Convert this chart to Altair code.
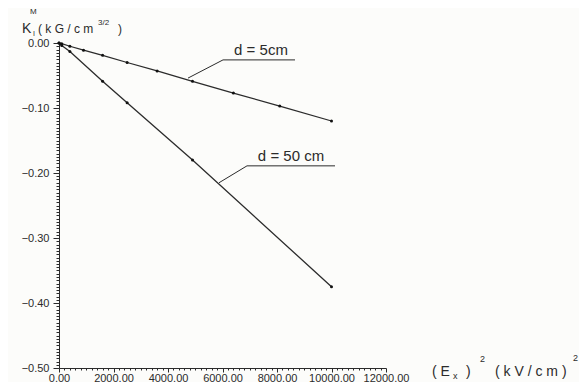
import altair as alt
import pandas as pd

# ---- data ----
E2_d5 = [0, 100, 400, 900, 1600, 2500, 3600, 4900, 6400, 8100, 10000]
K_d5 = [0.0, -0.001, -0.005, -0.011, -0.019, -0.030, -0.043, -0.059, -0.077, -0.097, -0.120]
E2_d50 = [0, 100, 400, 1600, 2500, 4900, 10000]
K_d50 = [0.0, -0.004, -0.013, -0.059, -0.092, -0.180, -0.375]

labels = ["d = 5cm", "d = 50 cm"]
# leader lines (data coordinates): point on curve -> start of underline -> end of underline
lead_x = [4734, 5872]
lead_y = [-0.054, -0.215]
under_x1 = [6019, 6899]
under_x2 = [8661, 10129]
under_y = [-0.026, -0.189]
label_x = [7413, 8514]

x_ticks = list(range(0, 12001, 200))
y_ticks = [round(-i * 0.005, 3) for i in range(0, 101)]

INK = "#2b2b2b"

df = pd.concat([
    pd.DataFrame({"E2": E2_d5, "K": K_d5, "d": "5"}),
    pd.DataFrame({"E2": E2_d50, "K": K_d50, "d": "50"}),
])

xscale = alt.Scale(domain=[0, 12000], nice=False, zero=False)
yscale = alt.Scale(domain=[-0.5, 0.0], nice=False, zero=False)

xaxis = alt.Axis(
    values=x_ticks,
    labelExpr="datum.value % 2000 === 0 ? format(datum.value, '.2f') : ''",
    tickSize={"condition": {"test": "datum.value % 2000 === 0", "value": 4}, "value": 2},
    title=None, grid=False, domainColor=INK, tickColor=INK, labelColor=INK,
    labelFont="Liberation Sans", labelFontSize=11, labelOverlap=False, labelPadding=0,
    labelFlush=False,
)
yaxis = alt.Axis(
    values=y_ticks,
    labelExpr="abs(datum.value*10 - round(datum.value*10)) < 1e-6 ? format(datum.value, '.2f') : ''",
    tickSize={"condition": {"test": "abs(datum.value*10 - round(datum.value*10)) < 1e-6", "value": 6}, "value": 3},
    title=None, grid=False, domainColor=INK, tickColor=INK, labelColor=INK,
    labelFont="Liberation Sans", labelFontSize=11, labelPadding=4, labelFlush=False,
    labelOverlap=False,
)

def X(f):
    return alt.X(f, type="quantitative", scale=xscale, axis=xaxis)

def Y(f):
    return alt.Y(f, type="quantitative", scale=yscale, axis=yaxis)

base = alt.Chart(df)
lines = base.mark_line(color=INK, strokeWidth=1.3).encode(
    x=X("E2"), y=Y("K"), detail="d:N",
)
pts = base.mark_circle(color="#111", size=9, opacity=1).encode(x=X("E2"), y=Y("K"))

ann = pd.DataFrame({
    "label": labels, "lx": lead_x, "ly": lead_y,
    "ux1": under_x1, "ux2": under_x2, "uy": under_y, "tx": label_x,
})
annb = alt.Chart(ann)
leader = annb.mark_rule(color=INK, strokeWidth=1).encode(
    x=X("lx"), y=Y("ly"), x2="ux1:Q", y2="uy:Q",
)
under = annb.mark_rule(color=INK, strokeWidth=1).encode(
    x=X("ux1"), x2="ux2:Q", y=Y("uy"),
)
lab = annb.mark_text(color=INK, font="Liberation Sans", fontSize=15, baseline="bottom", dy=-2).encode(
    x=X("tx"), y=Y("uy"), text="label:N",
)

one = pd.DataFrame({"a": [0]})
def txt(s, x, y, size=12, baseline="alphabetic", align="left"):
    return alt.Chart(one).mark_text(
        text=s, color=INK, font="Liberation Sans", fontSize=size,
        align=align, baseline=baseline,
    ).encode(x=alt.value(x), y=alt.value(y))

titles = [
    # y title  K_I^M (kG/cm^3/2)
    txt("K", -37, -10, 14),
    txt("M", -29, -29, 8),
    txt("I", -26, -7, 7),
    txt("( k G / c m", -21, -10, 12),
    txt("3/2", 39, -18, 8),
    txt(")", 59, -10, 12),
    # x title  (E_x)^2 (kV/cm)^2
    txt("( E", 373, 333, 14),
    txt("x", 394, 336, 9),
    txt(")", 407, 333, 14),
    txt("2", 421, 319, 9),
    txt("(  k V / c m  )", 436, 333, 14),
    txt("2", 514, 318, 9),
]

chart = alt.layer(lines, pts, leader, under, lab, *titles).properties(
    width=327, height=325,
    autosize=alt.AutoSizeParams(type="none"),
    padding={"left": 51, "top": 35, "right": 193, "bottom": 14},
    background="#fcfcfa",
).configure_view(stroke=None)

chart.save("out.html", embed_options={"renderer": "svg", "actions": False})
